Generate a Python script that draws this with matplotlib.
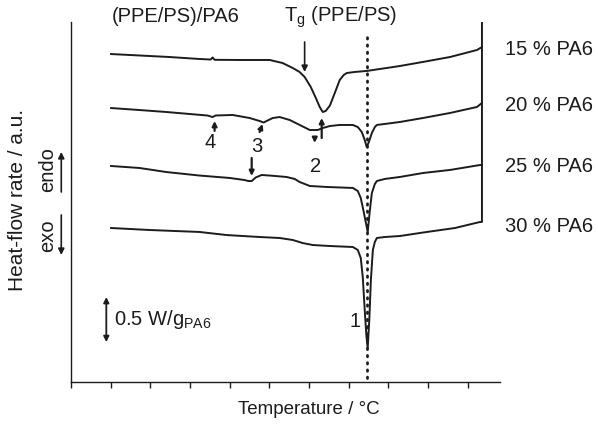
import matplotlib
matplotlib.use("Agg")
import matplotlib.pyplot as plt

plt.rcParams["font.family"] = ["Liberation Sans", "DejaVu Sans"]
plt.rcParams["mathtext.default"] = "regular"

# DSC heating traces: temperature (°C) and heat-flow rate (W/g, stacked offsets)
t_15 = [90.2, 104.5, 119.6, 134.8, 140.4, 141.4, 142.4, 155.0, 170.2, 176.7, 181.8, 185.3,
        187.8, 190.9, 193.9, 195.4, 196.9, 198.4, 200.5, 203.0, 205.5, 207.5, 209.0, 213.1,
        219.1, 225.7, 229.2, 235.8, 247.4, 261.1, 274.7, 277.2, 277.2]
hf_15 = [3.644, 3.628, 3.611, 3.589, 3.583, 3.606, 3.580, 3.578, 3.578, 3.544, 3.489, 3.444,
         3.389, 3.278, 3.133, 3.056, 3.000, 3.011, 3.070, 3.211, 3.356, 3.411, 3.433, 3.445,
         3.456, 3.478, 3.489, 3.511, 3.556, 3.611, 3.689, 3.722, 4.000]

t_20 = [90.2, 104.5, 118.1, 129.7, 138.8, 141.4, 142.9, 151.5, 160.1, 165.1, 167.1, 168.6,
        171.7, 175.2, 180.3, 185.3, 190.4, 194.4, 196.9, 200.5, 205.5, 212.1, 214.6, 216.6,
        218.1, 219.1, 220.2, 221.7, 223.2, 224.2, 228.2, 235.8, 247.4, 261.1, 274.7, 277.2, 277.2]
hf_20 = [3.044, 3.022, 3.000, 2.978, 2.961, 2.944, 2.961, 2.967, 2.933, 2.900, 2.883, 2.900,
         2.933, 2.944, 2.911, 2.856, 2.800, 2.800, 2.822, 2.844, 2.856, 2.856, 2.833, 2.778,
         2.689, 2.611, 2.667, 2.767, 2.833, 2.856, 2.867, 2.889, 2.933, 2.989, 3.056, 3.100, 3.722]

t_25 = [90.2, 104.5, 118.1, 134.8, 150.0, 157.5, 159.5, 161.1, 163.1, 166.1, 170.2, 178.7,
        182.8, 185.3, 190.4, 198.9, 212.1, 214.6, 216.1, 217.6, 218.6, 219.6, 220.7, 221.7,
        223.2, 224.2, 228.2, 235.8, 247.4, 261.1, 276.2, 277.2, 277.2]
hf_25 = [2.400, 2.378, 2.333, 2.294, 2.267, 2.244, 2.233, 2.233, 2.272, 2.300, 2.294, 2.278,
         2.256, 2.222, 2.178, 2.167, 2.156, 2.122, 2.044, 1.889, 1.778, 1.667, 1.911, 2.100,
         2.200, 2.233, 2.256, 2.278, 2.322, 2.356, 2.411, 2.411, 3.100]

t_30 = [90.2, 109.5, 134.8, 148.4, 165.1, 175.2, 181.8, 186.8, 191.9, 200.5, 212.1, 214.6,
        216.1, 217.1, 218.1, 218.9, 219.6, 220.4, 221.2, 222.2, 223.2, 224.2, 228.2, 235.8,
        249.4, 263.6, 276.2, 277.2, 277.2]
hf_30 = [1.711, 1.689, 1.667, 1.633, 1.611, 1.600, 1.578, 1.544, 1.522, 1.511, 1.500, 1.467,
         1.378, 1.167, 0.800, 0.522, 0.378, 0.689, 1.133, 1.467, 1.556, 1.600, 1.611, 1.622,
         1.667, 1.711, 1.778, 1.778, 2.411]

series_labels = ["15 % PA6", "20 % PA6", "25 % PA6", "30 % PA6"]
label_levels = [3.689, 3.067, 2.400, 1.733]

t_melt = 219.1          # PA6 melting peak (dotted guide)
t_ticks = list(range(70, 271, 20))
scale_bar = 0.5         # W/g_PA6

fig = plt.figure(figsize=(5.98, 4.24), dpi=100)
ax = fig.add_axes([71 / 598, 42 / 424, 429 / 598, 360 / 424])

ink = "#1c1c1c"
for t, hf in [(t_15, hf_15), (t_20, hf_20), (t_25, hf_25), (t_30, hf_30)]:
    ax.plot(t, hf, color=ink, lw=1.4, solid_joinstyle="round")

ax.plot([t_melt, t_melt], [0.04, 3.83], color=ink, lw=2.0,
        linestyle=(0, (0.5, 2.1)), dash_capstyle="round")

ax.set_xlim(70, 286.3)
ax.set_ylim(0, 4.0)
ax.set_xticks(t_ticks)
ax.set_xticklabels([])
ax.set_yticks([])
ax.tick_params(axis="x", direction="out", length=4, width=1, color=ink)
for side in ("top", "right"):
    ax.spines[side].set_visible(False)
for side in ("left", "bottom"):
    ax.spines[side].set_linewidth(1.0)
    ax.spines[side].set_color(ink)

fs = 14.5
for lab, lev in zip(series_labels, label_levels):
    ax.text(288.8, lev, lab, fontsize=fs, va="center", ha="left", color=ink, clip_on=False)

ax.text(90.4, 4.056, "(PPE/PS)/PA6", fontsize=fs, va="center", ha="left", color=ink)
ax.text(177.3, 4.056, "T$_g$ (PPE/PS)", fontsize=fs, va="center", ha="left", color=ink)

arrow = dict(arrowstyle="-|>", color=ink, lw=1.2, mutation_scale=9, shrinkA=0, shrinkB=0)
ax.annotate("", xy=(187.8, 3.444), xytext=(187.8, 3.778), arrowprops=arrow)

small = dict(arrowstyle="-|>", color=ink, lw=1.6, mutation_scale=7, shrinkA=0, shrinkB=0)
ax.annotate("", xy=(142.4, 2.90), xytext=(142.4, 2.79), arrowprops=small)
ax.annotate("", xy=(166.6, 2.867), xytext=(165.1, 2.778), arrowprops=small)
ax.annotate("", xy=(161.1, 2.289), xytext=(161.1, 2.489), arrowprops=small)
ax.annotate("", xy=(196.4, 2.933), xytext=(196.4, 2.711), arrowprops=small)
ax.annotate("", xy=(192.9, 2.656), xytext=(192.9, 2.72), arrowprops=small)

ax.text(139.9, 2.656, "4", fontsize=fs, ha="center", va="center", color=ink)
ax.text(163.6, 2.622, "3", fontsize=fs, ha="center", va="center", color=ink)
ax.text(193.4, 2.400, "2", fontsize=fs, ha="center", va="center", color=ink)
ax.text(213.1, 0.667, "1", fontsize=fs, ha="center", va="center", color=ink)

# 0.5 W/g scale bar
y0 = 0.444
ax.annotate("", xy=(87.8, y0 + scale_bar), xytext=(87.8, y0),
            arrowprops=dict(arrowstyle="<|-|>", color=ink, lw=1.3, mutation_scale=8,
                            shrinkA=0, shrinkB=0))
ax.text(91.9, y0 + scale_bar / 2, "0.5 W/g$_{PA6}$", fontsize=fs, ha="left", va="center",
        color=ink)

# endo / exo direction markers
ax.text(58.0, 2.356, "endo", fontsize=fs, rotation=90, ha="center", va="center", color=ink,
        clip_on=False)
ax.text(58.0, 1.622, "exo", fontsize=fs, rotation=90, ha="center", va="center", color=ink,
        clip_on=False)
big = dict(arrowstyle="-|>", color=ink, lw=1.2, mutation_scale=9, shrinkA=0, shrinkB=0)
ax.annotate("", xy=(65.1, 2.556), xytext=(65.1, 2.111), arrowprops=big, annotation_clip=False)
ax.annotate("", xy=(65.1, 1.411), xytext=(65.1, 1.856), arrowprops=big, annotation_clip=False)

fig.text(18 / 598, 1 - 200 / 424, "Heat-flow rate / a.u.", rotation=90, fontsize=15,
         ha="center", va="center", color=ink)
fig.text(309 / 598, 1 - 410 / 424, "Temperature / °C", fontsize=13.5, ha="center",
         va="center", color=ink)

fig.savefig("out.png", dpi=100)
